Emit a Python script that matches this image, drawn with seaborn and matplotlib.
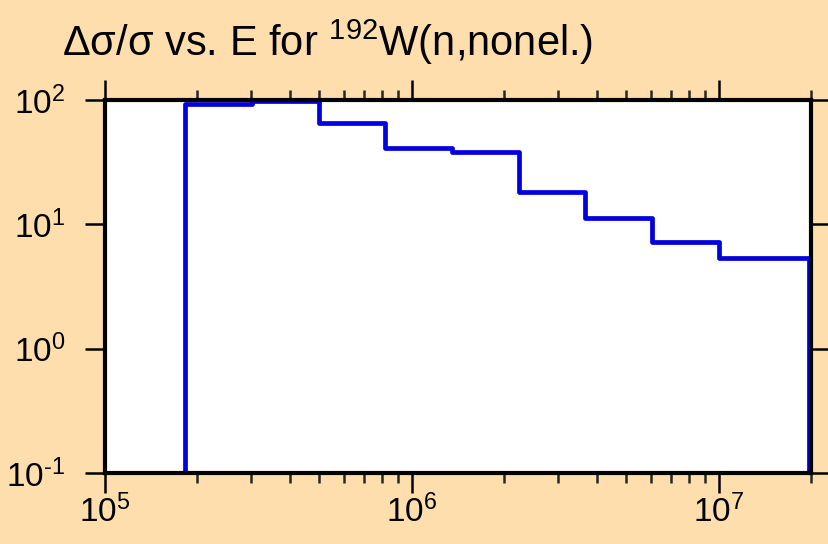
import matplotlib
matplotlib.use("Agg")
import matplotlib.pyplot as plt
import matplotlib.ticker as mticker
import seaborn as sns
import numpy as np
import pandas as pd

# Data
energy_edges = [1.82e5, 3.02e5, 4.97e5, 8.2e5, 1.355e6, 2.23e6, 3.68e6, 6.08e6, 1.0e7, 1.97e7]
rel_unc = [92.3, 98.5, 65.6, 41.3, 38.3, 18.3, 11.2, 7.16, 5.33]
y_floor = 0.1
x_limits = (1e5, 2e7)
y_limits = (0.1, 100)
title = r"Δσ/σ vs. E for $^{192}$W(n,nonel.)"

sns.set_theme(style="ticks")
plt.rcParams["font.family"] = ["Liberation Sans", "DejaVu Sans"]
plt.rcParams["mathtext.fontset"] = "custom"
plt.rcParams["mathtext.rm"] = "Liberation Sans"
plt.rcParams["mathtext.it"] = "Liberation Sans:italic"
plt.rcParams["mathtext.bf"] = "Liberation Sans:bold"
plt.rcParams["axes.unicode_minus"] = False

bg = "#FFDEAD"
fig = plt.figure(figsize=(8.29, 5.44), dpi=100, facecolor=bg)
ax = fig.add_axes([105 / 829, 1 - 473 / 544, (811 - 105) / 829, (473 - 100) / 544])
ax.set_facecolor("white")

x_pts = [energy_edges[0]] + energy_edges[:-1] + [energy_edges[-1], energy_edges[-1]]
y_pts = [y_floor] + rel_unc + [rel_unc[-1], y_floor]
df = pd.DataFrame({"E": x_pts, "unc": y_pts})

sns.lineplot(data=df, x="E", y="unc", ax=ax, drawstyle="steps-post",
             estimator=None, sort=False, color="#0000E0", linewidth=3.4)

ax.set_xscale("log")
ax.set_yscale("log")
ax.set_xlim(*x_limits)
ax.set_ylim(*y_limits)
ax.set_xlabel("")
ax.set_ylabel("")


def pow_label(v, pos):
    e = int(round(np.log10(v)))
    return r"$\mathregular{10^{\text{%d}}}$" % e


ax.xaxis.set_major_locator(mticker.LogLocator(base=10, numticks=10))
ax.xaxis.set_minor_locator(mticker.LogLocator(base=10, subs=np.arange(2, 10), numticks=20))
ax.yaxis.set_major_locator(mticker.LogLocator(base=10, numticks=10))
ax.yaxis.set_minor_locator(mticker.NullLocator())
ax.xaxis.set_major_formatter(mticker.FuncFormatter(pow_label))
ax.yaxis.set_major_formatter(mticker.FuncFormatter(pow_label))

for s in ax.spines.values():
    s.set_linewidth(3.0)
    s.set_color("black")
    s.set_visible(True)

ax.tick_params(axis="x", which="major", direction="out", length=14.5, width=1.8,
               top=True, bottom=True, labelsize=24, pad=1, colors="black")
ax.tick_params(axis="x", which="minor", direction="out", length=7.5, width=1.8,
               top=True, bottom=True)
ax.tick_params(axis="y", which="major", direction="out", length=14.5, width=1.8,
               left=True, right=True, labelsize=24, pad=14, colors="black")

fig.text(62 / 829, 1 - 56 / 544, title, fontsize=30, ha="left", va="baseline",
         color="black")

fig.savefig("out.png", dpi=100, facecolor=bg)
